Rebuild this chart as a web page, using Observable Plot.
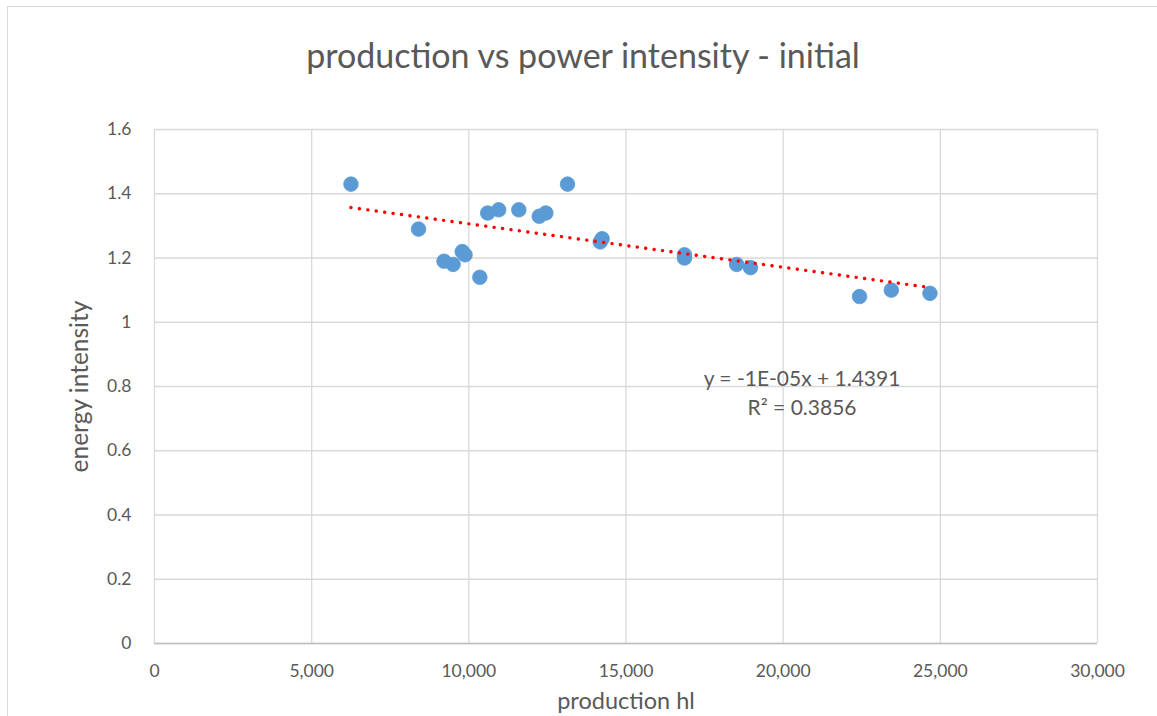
<!DOCTYPE html>
<html>
<head>
<meta charset="utf-8">
<script src="https://cdn.jsdelivr.net/npm/d3@7"></script>
<script src="https://cdn.jsdelivr.net/npm/@observablehq/plot@0.6"></script>
<style>
  html, body { margin: 0; padding: 0; background: #fff; overflow: hidden; }
  #wrap { position: relative; width: 1157px; height: 716px; overflow: hidden; font-family: Lato, "Open Sans", sans-serif; }
  #frame { position: absolute; left: 7px; top: 6px; width: 1300px; height: 900px; border: 1px solid #d9d9d9; box-sizing: border-box; }
  #title { position: absolute; left: 0; width: 1166px; top: 33px; text-align: center; font-size: 34px; color: #595959; line-height: 44px; }
  #chart { position: absolute; left: 0; top: 100px; }
</style>
</head>
<body>
<div id="wrap">
  <div id="frame"></div>
  <div id="title">production vs power intensity - initial</div>
  <div id="chart"></div>
</div>
<script>
// production (hl) and energy intensity
const production = [6250, 8400, 9210, 9500, 9790, 9880, 10350, 10600, 10950, 11590, 12240, 12450, 13140, 14240, 14180, 16860, 16860, 18520, 18960, 22430, 23440, 24670];
const intensity  = [1.43, 1.29, 1.19, 1.18, 1.22, 1.21, 1.14, 1.34, 1.35, 1.35, 1.33, 1.34, 1.43, 1.26, 1.25, 1.21, 1.20, 1.18, 1.17, 1.08, 1.10, 1.09];
const xTicks = [0, 5000, 10000, 15000, 20000, 25000, 30000];
const yTicks = [0, 0.2, 0.4, 0.6, 0.8, 1.0, 1.2, 1.4, 1.6];
// linear trendline (Excel), endpoints
const trendX = [6250, 24670];
const trendY = [1.357, 1.108];
const trendText = ["y = -1E-05x + 1.4391", "R\u00b2 = 0.3856"];
const trendLabelX = [20600, 20600];
const trendLabelY = [0.822, 0.733];

const data = production.map((p, i) => ({production: p, intensity: intensity[i]}));
const trend = trendX.map((x, i) => ({x, y: trendY[i]}));
const labels = trendText.map((t, i) => ({text: t, x: trendLabelX[i], y: trendLabelY[i]}));

const grey = "#595959";
const chart = Plot.plot({
  width: 1157,
  height: 616,
  marginTop: 29,
  marginBottom: 73,
  marginLeft: 154,
  marginRight: 60,
  style: {fontFamily: "Lato, 'Open Sans', sans-serif", fontSize: "17px", color: grey, background: "transparent"},
  x: {domain: [0, 30000]},
  y: {domain: [0, 1.6]},
  marks: [
    Plot.gridX(xTicks, {stroke: "#d9d9d9", strokeOpacity: 1, strokeWidth: 1.3}),
    Plot.gridY(yTicks, {stroke: "#d9d9d9", strokeOpacity: 1, strokeWidth: 1.3}),
    Plot.ruleY([0], {stroke: "#bfbfbf", strokeWidth: 1.5}),
    Plot.axisX(xTicks, {tickSize: 0, tickPadding: 21, tickFormat: d3.format(","), label: null, fill: grey, fontSize: 17.5}),
    Plot.axisY(yTicks, {tickSize: 0, tickPadding: 23, tickFormat: d => String(+d.toFixed(1)), label: null, fill: grey, fontSize: 17.5}),
    Plot.text(["production hl"], {frameAnchor: "bottom", lineAnchor: "middle", textAnchor: "middle", dy: 58, fill: grey, fontSize: 23.5}),
    Plot.text(["energy intensity"], {frameAnchor: "left", textAnchor: "middle", lineAnchor: "middle", dx: -74, rotate: -90, fill: grey, fontSize: 24.5}),
    Plot.dot(data, {x: "production", y: "intensity", r: 7.3, fill: "#5b9bd5", stroke: "#5b9bd5", strokeWidth: 0.8}),
    Plot.line(trend, {x: "x", y: "y", stroke: "#ff0000", strokeWidth: 3.4, strokeDasharray: "0.1 8.4", strokeLinecap: "round"}),
    Plot.text(labels, {x: "x", y: "y", text: "text", fill: grey, fontSize: 21})
  ]
});
document.getElementById("chart").appendChild(chart);
</script>
</body>
</html>
